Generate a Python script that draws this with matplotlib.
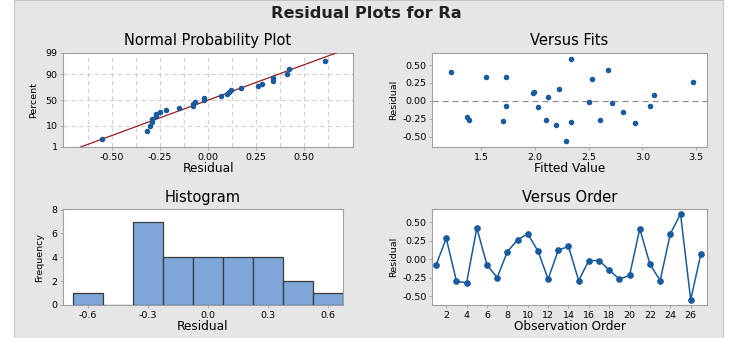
import matplotlib
matplotlib.use('Agg')
import matplotlib.pyplot as plt
import numpy as np
from statistics import NormalDist
from matplotlib.patches import Rectangle

plt.rcParams['font.family'] = ['DejaVu Sans']
plt.rcParams['axes.unicode_minus'] = False

# residuals in observation order
order_idx = np.arange(1, 28)
residuals = [-0.08, 0.28, -0.30, -0.32, 0.42, -0.08, -0.25, 0.10, 0.26, 0.34,
             0.11, -0.27, 0.12, 0.17, -0.29, -0.02, -0.02, -0.15, -0.27, -0.22,
             0.41, -0.07, -0.29, 0.34, 0.61, -0.55, 0.07]

# fitted values vs residual
fitted = [1.22, 1.37, 1.39, 1.55, 1.70, 1.73, 1.73, 1.98, 1.99, 2.03, 2.10, 2.12,
          2.20, 2.22, 2.29, 2.34, 2.34, 2.50, 2.53, 2.61, 2.68, 2.72, 2.82, 2.93,
          3.07, 3.11, 3.47]
fit_resid = [0.40, -0.22, -0.27, 0.34, -0.28, 0.33, -0.07, 0.11, 0.12, -0.09, -0.26, 0.06,
             -0.33, 0.17, -0.55, 0.59, -0.29, -0.01, 0.30, -0.26, 0.43, -0.03, -0.15, -0.31,
             -0.07, 0.08, 0.26]

pct_ticks = [1, 10, 50, 90, 99]
hist_edges = np.arange(-0.675, 0.70, 0.15)

W, H = 733, 338
blue = '#1a5a9e'
grid_c = '#d0d0d0'
spine_c = '#a0a0a0'
title_fs = 10.5
xlab_fs = 8.7

fig = plt.figure(figsize=(W / 100, H / 100), dpi=100, facecolor='white')
fig.patches.append(Rectangle((14 / W, 0), (723 - 14) / W, 1, transform=fig.transFigure,
                             facecolor='#e6e6e6', edgecolor='#c4c4c4', lw=0.8, zorder=-5))


def box(l, r, t, b):
    ax = fig.add_axes([l / W, (H - b) / H, (r - l) / W, (b - t) / H])
    ax.set_facecolor('white')
    for s in ax.spines.values():
        s.set_color(spine_c)
        s.set_linewidth(0.8)
    ax.tick_params(labelsize=6.8, length=2.5, width=0.6, color=spine_c, pad=1.5)
    return ax


fig.text(366 / W, 1 - 14 / H, 'Residual Plots for Ra', ha='center', va='center',
         fontsize=11.6, fontweight='bold', color='#222222')

# Normal probability plot
ax1 = box(63, 353, 53, 147)
nd = NormalDist()
n = len(residuals)
srt = np.sort(residuals)
probs = [(i + 1 - 0.3) / (n + 0.4) for i in range(n)]
zs = [nd.inv_cdf(p) for p in probs]
mu, sd = np.mean(residuals), np.std(residuals, ddof=1)
zlo, zhi = nd.inv_cdf(0.01), nd.inv_cdf(0.99)
zz = np.array([zlo, zhi])
ax1.plot(mu + sd * zz, zz, color='#9b1c1c', lw=0.9, zorder=3)
ax1.scatter(srt, zs, s=16, color=blue, zorder=4, linewidths=0)
ax1.set_xlim(-0.755, 0.755)
ax1.set_ylim(zlo, zhi)
ax1.set_yticks([nd.inv_cdf(p / 100) for p in pct_ticks])
ax1.set_yticklabels([str(p) for p in pct_ticks])
ax1.set_xticks([-0.5, -0.25, 0, 0.25, 0.5])
ax1.set_xticklabels(['-0.50', '-0.25', '0.00', '0.25', '0.50'])
for g in np.arange(-0.625, 0.7, 0.125):
    ax1.axvline(g, color=grid_c, ls=(0, (4, 3)), lw=0.8, zorder=1)
for p in [10, 50, 90]:
    ax1.axhline(nd.inv_cdf(p / 100), color=grid_c, ls=(0, (4, 3)), lw=0.8, zorder=1)
ax1.set_title('Normal Probability Plot', fontsize=title_fs, pad=6)
ax1.set_xlabel('Residual', fontsize=xlab_fs, labelpad=0)
ax1.set_ylabel('Percent', fontsize=6.8, labelpad=5)

# Versus fits
ax2 = box(432, 707, 53, 147)
ax2.scatter(fitted, fit_resid, s=16, color=blue, zorder=4, linewidths=0)
ax2.axhline(0, color='#909090', ls=(0, (5, 3)), lw=0.9, zorder=1)
ax2.set_xlim(1.044, 3.60)
ax2.set_ylim(-0.64, 0.667)
ax2.set_xticks([1.5, 2.0, 2.5, 3.0, 3.5])
ax2.set_yticks([-0.5, -0.25, 0, 0.25, 0.5])
ax2.set_yticklabels(['-0.50', '-0.25', '0.00', '0.25', '0.50'])
ax2.set_title('Versus Fits', fontsize=title_fs, pad=6)
ax2.set_xlabel('Fitted Value', fontsize=xlab_fs, labelpad=0)
ax2.set_ylabel('Residual', fontsize=6.8, labelpad=3)

# Histogram
ax3 = box(63, 343, 209, 305)
ax3.hist(residuals, bins=hist_edges, color='#7ea6d8', edgecolor='#3a3a3a', lw=0.9, zorder=3)
ax3.set_xlim(-0.725, 0.675)
ax3.set_ylim(0, 8.05)
ax3.set_xticks([-0.6, -0.3, 0, 0.3, 0.6])
ax3.set_xticklabels(['-0.6', '-0.3', '0.0', '0.3', '0.6'])
ax3.set_yticks([0, 2, 4, 6, 8])
ax3.set_title('Histogram', fontsize=title_fs, pad=5)
ax3.set_xlabel('Residual', fontsize=xlab_fs, labelpad=0)
ax3.set_ylabel('Frequency', fontsize=6.8, labelpad=5)

# Versus order
ax4 = box(432, 707, 209, 305)
ax4.plot(order_idx, residuals, color=blue, lw=1.1, marker='o', ms=3.8, zorder=3)
ax4.set_xlim(0.6, 27.6)
ax4.set_ylim(-0.62, 0.676)
ax4.set_xticks(np.arange(2, 27, 2))
ax4.set_yticks([-0.5, -0.25, 0, 0.25, 0.5])
ax4.set_yticklabels(['-0.50', '-0.25', '0.00', '0.25', '0.50'])
ax4.set_title('Versus Order', fontsize=title_fs, pad=5)
ax4.set_xlabel('Observation Order', fontsize=xlab_fs, labelpad=0)
ax4.set_ylabel('Residual', fontsize=6.8, labelpad=3)

fig.savefig('out.png', dpi=100, facecolor='white')
